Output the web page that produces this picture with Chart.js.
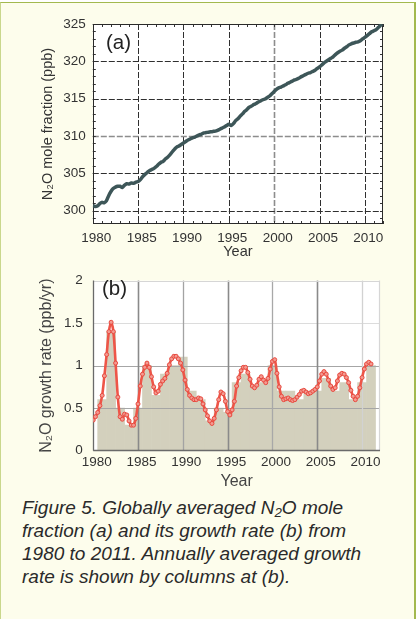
<!DOCTYPE html>
<html><head><meta charset="utf-8">
<script src="https://cdn.jsdelivr.net/npm/chart.js@4.4.1/dist/chart.umd.min.js"></script>
<style>
html,body{margin:0;padding:0;}
body{width:417px;height:619px;background:#fff;position:relative;overflow:hidden;font-family:"Liberation Sans",Arial,sans-serif;}
#bg{position:absolute;left:0;top:2px;width:413px;height:640px;background:#fdfdec;border-top:1.5px solid #a3b94f;border-left:1px solid #c9d78c;border-right:2px solid #a3b94f;}
canvas{position:absolute;left:0;}
#c1{top:0;}
#c2{top:262px;}
.lab{position:absolute;font-size:20.5px;line-height:20.5px;color:#222;}
#caption{position:absolute;left:22px;top:496px;font-style:italic;font-size:19px;line-height:23px;color:#2a2a2a;white-space:nowrap;}
#caption sub{font-size:70%;vertical-align:-0.25em;line-height:0;}
</style></head>
<body>
<div id="bg"></div>
<canvas id="c1" width="417" height="262"></canvas>
<canvas id="c2" width="417" height="233"></canvas>
<div class="lab" style="left:106px;top:32px;">(a)</div>
<div class="lab" style="left:102px;top:278px;">(b)</div>
<div id="caption">Figure 5. Globally averaged N<sub>2</sub>O mole<br>fraction (a) and its growth rate (b) from<br>1980 to 2011. Annually averaged growth<br>rate is shown by columns at (b).</div>
<script>
// ---- tick labels ----
const yearTicks = [1980, 1985, 1990, 1995, 2000, 2005, 2010];
const fracTicks = [300, 305, 310, 315, 320, 325];
const rateTicks = [0, 0.5, 1, 1.5, 2];

// ---- (a) globally averaged N2O mole fraction, ppb [year, value] ----
const moleFraction = [
[1980.00,300.65],[1980.25,300.55],[1980.50,300.60],[1980.75,300.90],
[1981.00,301.10],[1981.25,301.05],[1981.50,301.30],[1981.75,302.00],
[1982.00,302.55],[1982.25,302.95],[1982.50,303.15],[1982.75,303.25],
[1983.00,303.25],[1983.25,303.10],[1983.50,303.40],[1983.75,303.60],
[1984.00,303.55],[1984.25,303.70],[1984.50,303.65],[1984.75,303.80],
[1985.00,303.90],[1985.25,304.15],[1985.50,304.55],[1985.75,304.85],
[1986.00,305.10],[1986.25,305.35],[1986.50,305.50],[1986.75,305.65],
[1987.00,305.90],[1987.25,306.20],[1987.50,306.45],[1987.75,306.60],
[1988.00,306.90],[1988.25,307.15],[1988.50,307.45],[1988.75,307.85],
[1989.00,308.20],[1989.25,308.50],[1989.50,308.65],[1989.75,308.85],
[1990.00,309.05],[1990.25,309.25],[1990.50,309.45],[1990.75,309.60],
[1991.00,309.75],[1991.25,309.85],[1991.50,310.00],[1991.75,310.15],
[1992.00,310.25],[1992.25,310.40],[1992.50,310.45],[1992.75,310.50],
[1993.00,310.55],[1993.25,310.60],[1993.50,310.65],[1993.75,310.75],
[1994.00,310.90],[1994.25,311.05],[1994.50,311.20],[1994.75,311.40],
[1995.00,311.55],[1995.25,311.40],[1995.50,311.65],[1995.75,312.05],
[1996.00,312.30],[1996.25,312.65],[1996.50,312.95],[1996.75,313.30],
[1997.00,313.55],[1997.25,313.85],[1997.50,314.00],[1997.75,314.20],
[1998.00,314.35],[1998.25,314.55],[1998.50,314.70],[1998.75,314.85],
[1999.00,314.95],[1999.25,315.15],[1999.50,315.35],[1999.75,315.65],
[2000.00,315.95],[2000.25,316.25],[2000.50,316.45],[2000.75,316.55],
[2001.00,316.70],[2001.25,316.85],[2001.50,317.05],[2001.75,317.20],
[2002.00,317.35],[2002.25,317.50],[2002.50,317.60],[2002.75,317.75],
[2003.00,317.95],[2003.25,318.10],[2003.50,318.25],[2003.75,318.40],
[2004.00,318.50],[2004.25,318.65],[2004.50,318.80],[2004.75,319.05],
[2005.00,319.25],[2005.25,319.50],[2005.50,319.80],[2005.75,320.00],
[2006.00,320.20],[2006.25,320.40],[2006.50,320.60],[2006.75,320.90],
[2007.00,321.15],[2007.25,321.35],[2007.50,321.50],[2007.75,321.75],
[2008.00,321.95],[2008.25,322.20],[2008.50,322.35],[2008.75,322.45],
[2009.00,322.55],[2009.25,322.60],[2009.50,322.75],[2009.75,323.00],
[2010.00,323.20],[2010.25,323.45],[2010.50,323.70],[2010.75,323.95],
[2011.00,324.10],[2011.25,324.25],[2011.50,324.55],[2011.75,324.85],
[2011.90,325.00]
];

// ---- (b) growth rate, ppb/yr: smoothed curve [year, value] ----
const rateCurve = [
[1980.00,0.36],[1980.25,0.40],[1980.50,0.45],[1980.75,0.53],
[1981.00,0.65],[1981.25,0.88],[1981.50,1.13],[1981.75,1.40],
[1982.00,1.51],[1982.25,1.40],[1982.50,1.03],[1982.75,0.63],
[1983.00,0.40],[1983.25,0.37],[1983.50,0.43],[1983.75,0.42],
[1984.00,0.35],[1984.25,0.30],[1984.50,0.30],[1984.75,0.38],
[1985.00,0.55],[1985.25,0.76],[1985.50,0.90],[1985.75,0.98],
[1986.00,1.03],[1986.25,0.98],[1986.50,0.87],[1986.75,0.75],
[1987.00,0.68],[1987.25,0.70],[1987.50,0.78],[1987.75,0.82],
[1988.00,0.85],[1988.25,0.91],[1988.50,1.01],[1988.75,1.08],
[1989.00,1.11],[1989.25,1.11],[1989.50,1.08],[1989.75,1.03],
[1990.00,0.95],[1990.25,0.83],[1990.50,0.72],[1990.75,0.65],
[1991.00,0.62],[1991.25,0.60],[1991.50,0.60],[1991.75,0.62],
[1992.00,0.61],[1992.25,0.55],[1992.50,0.48],[1992.75,0.41],
[1993.00,0.35],[1993.25,0.32],[1993.50,0.38],[1993.75,0.48],
[1994.00,0.60],[1994.25,0.69],[1994.50,0.67],[1994.75,0.58],
[1995.00,0.46],[1995.25,0.42],[1995.50,0.48],[1995.75,0.58],
[1996.00,0.76],[1996.25,0.86],[1996.50,0.94],[1996.75,0.98],
[1997.00,0.98],[1997.25,0.92],[1997.50,0.84],[1997.75,0.76],
[1998.00,0.74],[1998.25,0.77],[1998.50,0.84],[1998.75,0.87],
[1999.00,0.83],[1999.25,0.80],[1999.50,0.85],[1999.75,0.96],
[2000.00,1.05],[2000.25,1.07],[2000.50,0.91],[2000.75,0.75],
[2001.00,0.64],[2001.25,0.60],[2001.50,0.61],[2001.75,0.62],
[2002.00,0.60],[2002.25,0.59],[2002.50,0.60],[2002.75,0.63],
[2003.00,0.66],[2003.25,0.70],[2003.50,0.71],[2003.75,0.69],
[2004.00,0.67],[2004.25,0.68],[2004.50,0.70],[2004.75,0.72],
[2005.00,0.75],[2005.25,0.82],[2005.50,0.90],[2005.75,0.93],
[2006.00,0.90],[2006.25,0.83],[2006.50,0.76],[2006.75,0.72],
[2007.00,0.74],[2007.25,0.82],[2007.50,0.89],[2007.75,0.91],
[2008.00,0.90],[2008.25,0.86],[2008.50,0.80],[2008.75,0.71],
[2009.00,0.64],[2009.25,0.60],[2009.50,0.64],[2009.75,0.74],
[2010.00,0.86],[2010.25,0.96],[2010.50,1.02],[2010.75,1.04],
[2011.00,1.02]
];

// ---- (b) annually averaged growth rate (columns) ----
const barYears = [1981,1982,1983,1984,1985,1986,1987,1988,1989,1990,1991,1992,1993,1994,1995,1996,1997,1998,1999,2000,2001,2002,2003,2004,2005,2006,2007,2008,2009,2010,2011];
const barRates = [0.6,1.4,0.5,0.3,0.5,1.0,0.65,0.9,1.0,1.1,0.7,0.6,0.35,0.5,0.45,0.8,0.9,0.75,0.8,1.0,0.7,0.7,0.6,0.7,0.7,0.85,0.7,0.8,0.6,0.8,1.0];

Chart.defaults.font.family = '"Liberation Sans", Arial, sans-serif';
Chart.defaults.color = '#333';

const plotBg = {
  id: 'plotBg',
  beforeDraw(chart) {
    const {ctx, chartArea: a} = chart;
    ctx.save(); ctx.fillStyle = '#fff';
    ctx.fillRect(a.left, a.top, a.width, a.height);
    ctx.restore();
  }
};

const grid1 = {
  id: 'grid1',
  beforeDatasetsDraw(chart) {
    const {ctx, chartArea: a, scales: {x, y}} = chart;
    ctx.save();
    ctx.setLineDash([6, 2]);
    yearTicks.forEach(v => {
      const px = Math.round(x.getPixelForValue(v)) + 0.5;
      ctx.strokeStyle = v === 2000 ? '#8d8d8d' : '#2f2f2f';
      ctx.lineWidth = v === 2000 ? 1.6 : 1;
      ctx.beginPath(); ctx.moveTo(px, a.top); ctx.lineTo(px, a.bottom); ctx.stroke();
    });
    fracTicks.forEach(v => {
      const py = Math.round(y.getPixelForValue(v)) + 0.5;
      ctx.strokeStyle = v === 310 ? '#8d8d8d' : '#2f2f2f';
      ctx.lineWidth = v === 310 ? 1.6 : 1;
      ctx.beginPath(); ctx.moveTo(a.left, py); ctx.lineTo(a.right, py); ctx.stroke();
    });
    ctx.setLineDash([]);
    ctx.strokeStyle = '#333'; ctx.lineWidth = 1;
    for (let v = Math.ceil(x.min); v <= x.max; v++) {
      const px = Math.round(x.getPixelForValue(v)) + 0.5;
      ctx.beginPath();
      ctx.moveTo(px, a.top); ctx.lineTo(px, a.top + 3);
      ctx.moveTo(px, a.bottom); ctx.lineTo(px, a.bottom - 3);
      ctx.stroke();
    }
    for (let v = Math.ceil(y.min); v <= y.max; v++) {
      const py = Math.round(y.getPixelForValue(v)) + 0.5;
      ctx.beginPath();
      ctx.moveTo(a.left, py); ctx.lineTo(a.left + 3, py);
      ctx.moveTo(a.right, py); ctx.lineTo(a.right - 3, py);
      ctx.stroke();
    }
    ctx.strokeStyle = '#2a2a2a';
    ctx.strokeRect(Math.round(a.left) + 0.5, Math.round(a.top) + 0.5, Math.round(a.width) - 1, Math.round(a.height) - 1);
    ctx.restore();
  }
};

new Chart(document.getElementById('c1'), {
  type: 'line',
  data: { datasets: [{
    data: moleFraction.map(([x, y]) => ({x, y})),
    borderColor: '#3d5658', borderWidth: 3.5, pointRadius: 0, tension: 0.3, fill: false
  }]},
  options: {
    responsive: false, animation: false, devicePixelRatio: 1,
    layout: {padding: {top: 24, right: 34, left: 0, bottom: 0}},
    plugins: {legend: {display: false}, tooltip: {enabled: false}},
    scales: {
      x: {
        type: 'linear', min: 1980, max: 2012,
        afterBuildTicks: s => { s.ticks = yearTicks.map(v => ({value: v})); },
        afterFit: s => { s.height = 38; },
        grid: {display: false, drawTicks: false}, border: {display: false},
        ticks: {padding: 6.4, labelOffset: 3.5, font: {size: 13.5}, color: '#333', maxRotation: 0, autoSkip: false, callback: v => String(v)},
        title: {display: true, text: 'Year', font: {size: 14.5}, color: '#333', padding: {top: 0, bottom: 1}}
      },
      y: {
        min: 298.2, max: 325,
        afterBuildTicks: s => { s.ticks = fracTicks.map(v => ({value: v})); },
        afterFit: s => { s.width = 92.8; },
        grid: {display: false, drawTicks: false}, border: {display: false},
        ticks: {padding: 7, font: {size: 13.5}, color: '#333', callback: v => String(v)},
        title: {display: true, text: 'N\u2082O mole fraction (ppb)', font: {size: 14.5}, color: '#333', padding: {top: 38.8, bottom: 0}}
      }
    }
  },
  plugins: [plotBg, grid1]
});

const grid2 = {
  id: 'grid2',
  afterDatasetDraw(chart, args) {
    if (args.meta.type !== 'bar') return;
    const {ctx, chartArea: a, scales: {x, y}} = chart;
    ctx.save();
    rateTicks.forEach(v => {
      if (v === 0 || v === 2) return;
      const py = Math.round(y.getPixelForValue(v)) + 0.5;
      ctx.strokeStyle = v === 1.5 ? '#dcdcdc' : '#a6a6a6';
      ctx.lineWidth = 1.2;
      ctx.beginPath(); ctx.moveTo(a.left, py); ctx.lineTo(a.right, py); ctx.stroke();
    });
    const vStyle = {1985: ['#8a8a8a', 1.6], 1990: ['#a3a3a3', 1.3], 1995: ['#8a8a8a', 1.6], 2000: ['#a8a8a8', 1.3], 2005: ['#8a8a8a', 1.6], 2010: ['#d2d2d2', 1.3]};
    yearTicks.forEach(v => {
      if (!vStyle[v]) return;
      const px = Math.round(x.getPixelForValue(v)) + 0.5;
      ctx.strokeStyle = vStyle[v][0]; ctx.lineWidth = vStyle[v][1];
      ctx.beginPath(); ctx.moveTo(px, a.top); ctx.lineTo(px, a.bottom); ctx.stroke();
    });
    ctx.lineWidth = 1.2;
    ctx.strokeStyle = '#d6d6d6';
    ctx.beginPath();
    ctx.moveTo(a.left, Math.round(a.top) + 0.5); ctx.lineTo(a.right, Math.round(a.top) + 0.5);
    ctx.moveTo(Math.round(a.right) - 0.5, a.top); ctx.lineTo(Math.round(a.right) - 0.5, a.bottom);
    ctx.stroke();
    ctx.strokeStyle = '#6a6a6a'; ctx.lineWidth = 1.3;
    ctx.beginPath();
    ctx.moveTo(Math.round(a.left) + 0.5, a.top); ctx.lineTo(Math.round(a.left) + 0.5, a.bottom);
    ctx.moveTo(a.left, Math.round(a.bottom) - 0.5); ctx.lineTo(a.right, Math.round(a.bottom) - 0.5);
    ctx.stroke();
    ctx.restore();
  }
};

new Chart(document.getElementById('c2'), {
  type: 'bar',
  data: { datasets: [
    {
      type: 'line', order: 0,
      data: rateCurve.map(([x, y]) => ({x, y})),
      borderColor: '#ee5548', borderWidth: 2.6, tension: 0.35, fill: false,
      pointRadius: 2, pointBorderWidth: 1, pointBorderColor: '#e84a3f', pointBackgroundColor: '#f39a91'
    },
    {
      type: 'bar', order: 1,
      data: barYears.map((x, i) => ({x, y: barRates[i]})),
      backgroundColor: '#d3d0bd', borderWidth: 0, barPercentage: 1, categoryPercentage: 1
    }
  ]},
  options: {
    responsive: false, animation: false, devicePixelRatio: 1,
    layout: {padding: {top: 10.7, right: 37, left: 0, bottom: 0}},
    plugins: {legend: {display: false}, tooltip: {enabled: false}},
    scales: {
      x: {
        type: 'linear', min: 1980, max: 2012, offset: false,
        afterBuildTicks: s => { s.ticks = yearTicks.map(v => ({value: v})); },
        afterFit: s => { s.height = 44.3; },
        grid: {display: false, drawTicks: false, offset: false}, border: {display: false},
        ticks: {padding: 3.7, labelOffset: 3.5, font: {size: 13.5}, color: '#333', maxRotation: 0, autoSkip: false, callback: v => String(v)},
        title: {display: true, text: 'Year', font: {size: 16}, color: '#444', padding: {top: 0, bottom: 3.4}}
      },
      y: {
        min: 0, max: 2,
        afterBuildTicks: s => { s.ticks = rateTicks.map(v => ({value: v})); },
        afterFit: s => { s.width = 93.2; },
        grid: {display: false, drawTicks: false}, border: {display: false},
        ticks: {padding: 10.5, font: {size: 13.5}, color: '#333', callback: v => String(v)},
        title: {display: true, text: 'N\u2082O growth rate (ppb/yr)', font: {size: 16}, color: '#444', padding: {top: 37.4, bottom: 0}}
      }
    }
  },
  plugins: [plotBg, grid2]
});
</script>
</body></html>
